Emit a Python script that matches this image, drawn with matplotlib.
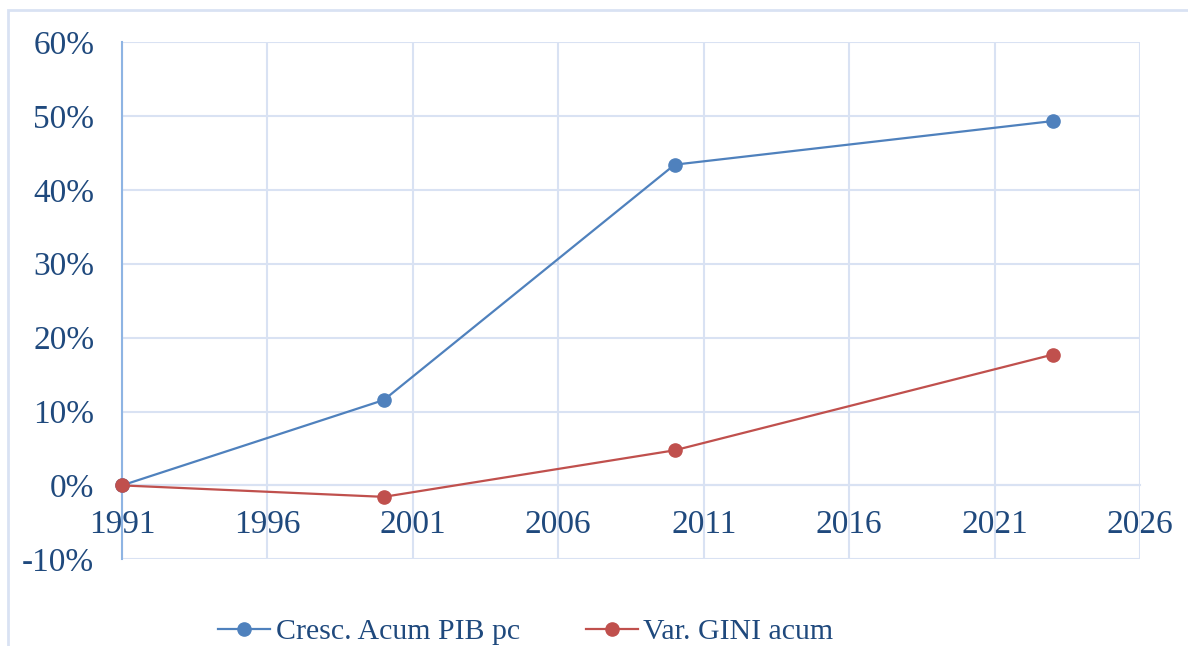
import matplotlib.pyplot as plt
import matplotlib.ticker as mticker
from matplotlib.patches import Rectangle

plt.rcParams['font.family'] = 'Liberation Serif'

years = [1991, 2000, 2010, 2023]
pib = [0.0, 11.55, 43.4, 49.3]     # Cresc. Acum PIB pc (%)
gini = [0.0, -1.55, 4.75, 17.7]    # Var. GINI acum (%)

text_col = '#1f497d'
grid_col = '#d9e2f3'

fig = plt.figure(figsize=(11.88, 6.46), dpi=100)
# outer chart frame (cut off at right and bottom like the original)
fig.patches.append(Rectangle((8 / 1188, -0.05), 1.2, 1 - 10 / 646 + 0.05,
                             transform=fig.transFigure, fill=False,
                             edgecolor=grid_col, linewidth=2, zorder=0))

ax = fig.add_axes([122 / 1188, 1 - 559.3 / 646, (1140 - 122) / 1188, (559.3 - 42) / 646])

ax.plot(years, pib, '-o', color='#4f81bd', lw=1.6, ms=9.5, label='Cresc. Acum PIB pc',
        zorder=3, clip_on=False)
ax.plot(years, gini, '-o', color='#c0504d', lw=1.6, ms=9.5, label='Var. GINI acum',
        zorder=3, clip_on=False)

ax.set_xlim(1991, 2026)
ax.set_ylim(-10, 60)
ax.set_xticks(range(1991, 2027, 5))
ax.set_yticks(range(-10, 61, 10))
ax.yaxis.set_major_formatter(mticker.FuncFormatter(lambda v, p: f'{v:.0f}%'))

ax.grid(True, color=grid_col, lw=1.5)
ax.set_axisbelow(True)

for s in ['top', 'right']:
    ax.spines[s].set_visible(False)
ax.spines['bottom'].set_position(('data', 0))
ax.spines['bottom'].set_color(grid_col)
ax.spines['bottom'].set_linewidth(1.5)
ax.spines['left'].set_color('#8eb4e3')
ax.spines['left'].set_linewidth(1.5)

ax.tick_params(axis='both', length=0, labelsize=24, labelcolor=text_col)
ax.tick_params(axis='x', pad=17)
ax.tick_params(axis='y', pad=20)

ax.legend(loc='center', bbox_to_anchor=(526 / 1188, 1 - 632 / 646), bbox_transform=fig.transFigure,
          ncol=2, frameon=False, fontsize=21.5, labelcolor=text_col,
          handlelength=1.74, handletextpad=0.2, columnspacing=2.18, borderpad=0)

fig.savefig('out.png', dpi=100)
